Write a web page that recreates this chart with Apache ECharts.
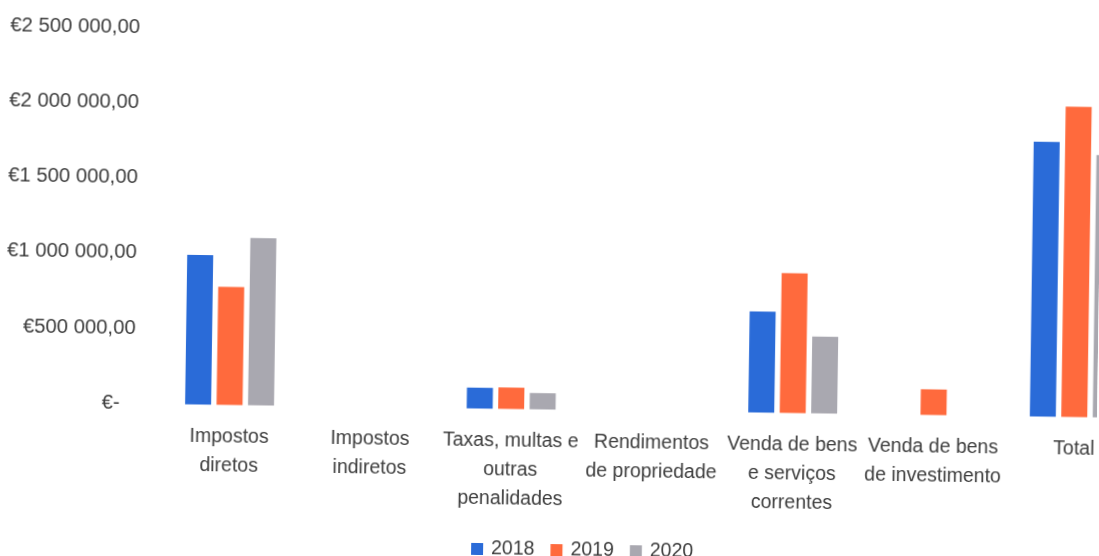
<!DOCTYPE html>
<html>
<head>
<meta charset="utf-8">
<script src="https://cdn.jsdelivr.net/npm/echarts@6/dist/echarts.min.js"></script>
<style>
  html, body { margin: 0; padding: 0; background: #ffffff; overflow: hidden; }
  #chart { width: 1099px; height: 556px; transform: rotate(0.82deg); transform-origin: 549.5px 278px; }
</style>
</head>
<body>
<div id="chart"></div>
<script>
const categories = [
  'Impostos\ndiretos',
  'Impostos\nindiretos',
  'Taxas, multas e\noutras\npenalidades',
  'Rendimentos\nde propriedade',
  'Venda de bens\ne serviços\ncorrentes',
  'Venda de bens\nde investimento',
  'Total'
];
const seriesNames = ['2018', '2019', '2020'];
const values2018 = [992000, 0, 138000, 0, 670000, 0, 1824000];
const values2019 = [783000, 0, 142000, 0, 928000, 170000, 2060000];
const values2020 = [1111000, 0, 108000, 0, 509000, 0, 1742000];
const yMin = 0;
const yMax = 2500000;
const yInterval = 500000;

const FONT = "'Liberation Sans', Arial, sans-serif";
const TEXT = '#3d3d3d';
const colors = ['#2a6bd8', '#ff6a3d', '#a9a8b0'];

function euro(v) {
  if (v === 0) return '{z|€-}';
  const s = String(Math.round(v)).replace(/\B(?=(\d{3})+(?!\d))/g, ' ');
  return '€' + s + ',00';
}

const chart = echarts.init(document.getElementById('chart'), null, { renderer: 'canvas' });
chart.setOption({
  animation: false,
  backgroundColor: '#ffffff',
  color: colors,
  textStyle: { fontFamily: FONT, color: TEXT },
  legend: {
    data: seriesNames,
    left: 470,
    top: 535,
    itemWidth: 12,
    itemHeight: 12,
    itemGap: 16,
    icon: 'rect',
    textStyle: { fontFamily: FONT, fontSize: 19.5, color: TEXT, padding: [0, 0, 0, 3] }
  },
  grid: { left: 161, top: 33, width: 985.6, height: 376.5, containLabel: false, outerBoundsMode: 'none' },
  xAxis: {
    type: 'category',
    data: categories,
    axisLine: { show: false },
    axisTick: { show: false },
    axisLabel: {
      interval: 0,
      margin: 18,
      fontFamily: FONT,
      fontSize: 19.5,
      lineHeight: 29,
      color: TEXT,
      align: 'center',
      hideOverlap: false
    }
  },
  yAxis: {
    type: 'value',
    min: yMin,
    max: yMax,
    interval: yInterval,
    axisLine: { show: false },
    axisTick: { show: false },
    splitLine: { show: false },
    axisLabel: {
      margin: 24.5,
      fontFamily: FONT,
      fontSize: 20.3,
      color: TEXT,
      formatter: euro,
      rich: { z: { fontFamily: FONT, fontSize: 20.3, color: TEXT, padding: [0, 15, 0, 0] } }
    }
  },
  series: [
    { name: seriesNames[0], type: 'bar', data: values2018, barWidth: 26, barGap: '21%' },
    { name: seriesNames[1], type: 'bar', data: values2019, barWidth: 26, barGap: '21%' },
    { name: seriesNames[2], type: 'bar', data: values2020, barWidth: 26, barGap: '21%' }
  ]
});
</script>
</body>
</html>
